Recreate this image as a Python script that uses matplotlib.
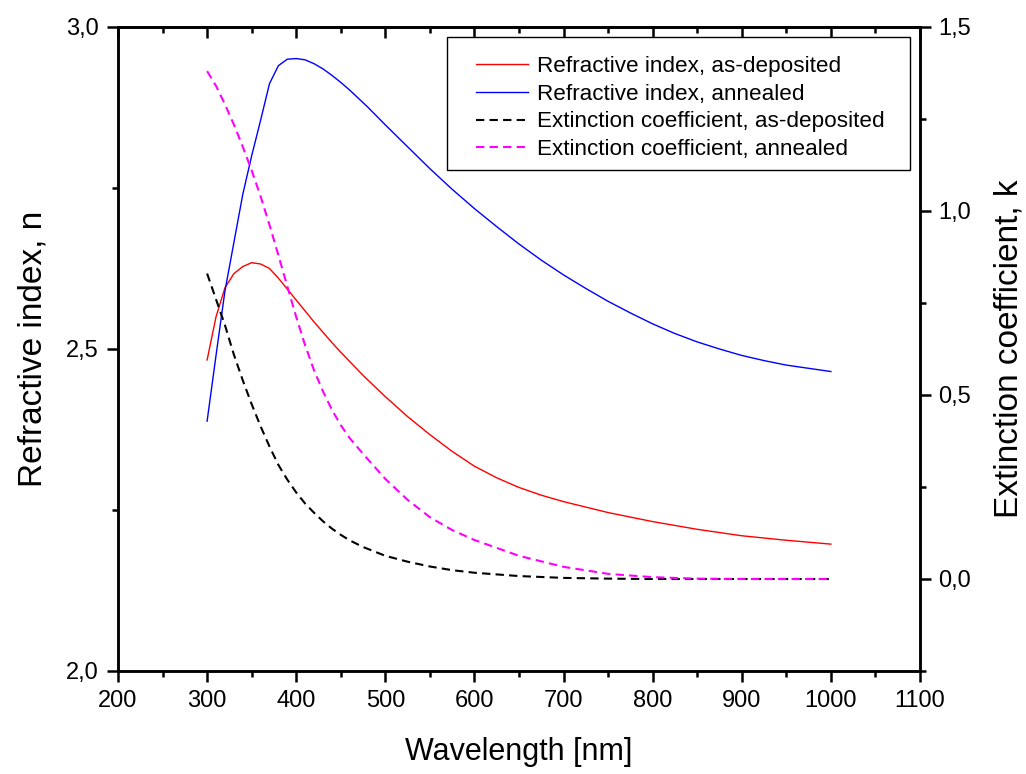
import numpy as np
import matplotlib
matplotlib.use('Agg')
import matplotlib.pyplot as plt
from matplotlib.ticker import MultipleLocator, FuncFormatter
from matplotlib.patches import Rectangle

plt.rcParams['font.family'] = ['Liberation Sans', 'DejaVu Sans']

# refractive index n (left axis)
wl_n = [300, 310, 320, 330, 340, 350, 360, 370, 380, 390, 400, 410, 420, 430, 440,
        450, 475, 500, 525, 550, 575, 600, 625, 650, 675, 700, 750, 800, 850, 900,
        950, 1000]
n_asdep = [2.483, 2.55, 2.595, 2.617, 2.628, 2.634, 2.632, 2.625, 2.61, 2.593, 2.576,
           2.559, 2.542, 2.526, 2.510, 2.495, 2.459, 2.426, 2.395, 2.367, 2.341,
           2.318, 2.300, 2.285, 2.273, 2.263, 2.246, 2.232, 2.220, 2.210, 2.203,
           2.197]

wl_na = [300, 310, 320, 330, 340, 350, 360, 370, 380, 390, 400, 410, 420, 430, 440,
         450, 460, 470, 480, 490, 500, 525, 550, 575, 600, 625, 650, 675, 700, 725,
         750, 775, 800, 825, 850, 875, 900, 925, 950, 975, 1000]
n_ann = [2.388, 2.49, 2.59, 2.665, 2.74, 2.80, 2.855, 2.912, 2.94, 2.95, 2.951, 2.949,
         2.943, 2.935, 2.925, 2.914, 2.902, 2.889, 2.876, 2.862, 2.848, 2.814, 2.780,
         2.748, 2.718, 2.690, 2.663, 2.638, 2.615, 2.594, 2.574, 2.556, 2.539, 2.524,
         2.511, 2.500, 2.490, 2.482, 2.475, 2.470, 2.465]

# extinction coefficient k (right axis)
wl_k = [300, 310, 320, 330, 340, 350, 360, 370, 380, 390, 400, 410, 420, 430, 440,
        450, 460, 475, 500, 525, 550, 575, 600, 650, 700, 750, 800, 850, 900, 950,
        1000]
k_asdep = [0.83, 0.76, 0.69, 0.61, 0.54, 0.475, 0.415, 0.36, 0.31, 0.27, 0.235, 0.205,
           0.18, 0.157, 0.137, 0.12, 0.105, 0.087, 0.063, 0.047, 0.034, 0.024, 0.017,
           0.008, 0.003, 0.001, 0.0, 0.0, 0.0, 0.0, 0.0]
k_ann = [1.38, 1.34, 1.29, 1.235, 1.175, 1.11, 1.04, 0.962, 0.88, 0.795, 0.712, 0.635,
         0.567, 0.510, 0.460, 0.418, 0.383, 0.340, 0.272, 0.215, 0.168, 0.133, 0.106,
         0.063, 0.033, 0.014, 0.005, 0.001, 0.0, 0.0, 0.0]

labels = ['Refractive index, as-deposited', 'Refractive index, annealed',
          'Extinction coefficient, as-deposited', 'Extinction coefficient, annealed']

comma = FuncFormatter(lambda v, p: ('%.1f' % v).replace('.', ','))

fig = plt.figure(figsize=(10.26, 7.74), dpi=100)
ax = fig.add_axes([118/1026, 1 - 671/774, 802/1026, 644/774])
ax2 = ax.twinx()

l1, = ax.plot(wl_n, n_asdep, color='red', lw=1.0)
l2, = ax.plot(wl_na, n_ann, color='blue', lw=1.0)
l3, = ax2.plot(wl_k, k_asdep, color='black', lw=1.5, dashes=(4, 2.5))
l4, = ax2.plot(wl_k, k_ann, color='magenta', lw=1.5, dashes=(4, 2.5))

ax.set_xlim(200, 1100)
ax.set_ylim(2.0, 3.0)
ax2.set_ylim(-0.25, 1.5)

ax.xaxis.set_major_locator(MultipleLocator(100))
ax.xaxis.set_minor_locator(MultipleLocator(50))
ax.yaxis.set_major_locator(MultipleLocator(0.5))
ax.yaxis.set_minor_locator(MultipleLocator(0.25))
ax2.yaxis.set_major_locator(MultipleLocator(0.5))
ax2.yaxis.set_minor_locator(MultipleLocator(0.25))
ax.yaxis.set_major_formatter(comma)
ax2.yaxis.set_major_formatter(comma)

for a in (ax, ax2):
    for s in a.spines.values():
        s.set_linewidth(1.8)
ax.tick_params(axis='x', which='both', direction='out', top=False, labelsize=17,
               width=1.8, pad=6)
ax.tick_params(axis='x', which='major', length=8)
ax.tick_params(axis='x', which='minor', length=4)
ax.tick_params(axis='y', which='both', direction='out', right=False, labelsize=17,
               width=1.8, pad=6)
ax.tick_params(axis='y', which='major', length=8)
ax.tick_params(axis='y', which='minor', length=4)
ax2.tick_params(axis='y', which='both', direction='out', labelsize=17, width=1.8, pad=5)
ax2.tick_params(axis='y', which='major', length=8)
ax2.tick_params(axis='y', which='minor', length=4)

# inward ticks along the top edge
ax_top = ax.secondary_xaxis('top')
ax_top.xaxis.set_major_locator(MultipleLocator(100))
ax_top.xaxis.set_minor_locator(MultipleLocator(50))
ax_top.tick_params(which='both', direction='in', labeltop=False, width=1.8)
ax_top.tick_params(which='major', length=8)
ax_top.tick_params(which='minor', length=4)
ax_top.spines['top'].set_linewidth(1.8)

ax.set_xlabel('Wavelength [nm]', fontsize=22)
ax.set_ylabel('Refractive index, n', fontsize=24)
ax2.set_ylabel('Extinction coefficient, k', fontsize=24)
ax.xaxis.set_label_coords(0.5, -0.103)
ax.yaxis.set_label_coords(-0.087, 0.5)
ax2.yaxis.set_label_coords(1.092, 0.5)

# legend box drawn separately so its padding matches
box = Rectangle((447/1026, 1 - 170/774), 463/1026, 133/774, transform=fig.transFigure,
                facecolor='white', edgecolor='black', lw=1.0, zorder=5)
fig.patches.append(box)
leg = fig.legend([l1, l2, l3, l4], labels, loc='upper left',
                 bbox_to_anchor=(476/1026, 1 - 56/774), bbox_transform=fig.transFigure,
                 fontsize=16.2, frameon=False, borderpad=0, borderaxespad=0,
                 handlelength=2.3, handletextpad=0.4, labelspacing=0.3)
leg.set_zorder(6)

fig.savefig('out.png', dpi=100)
